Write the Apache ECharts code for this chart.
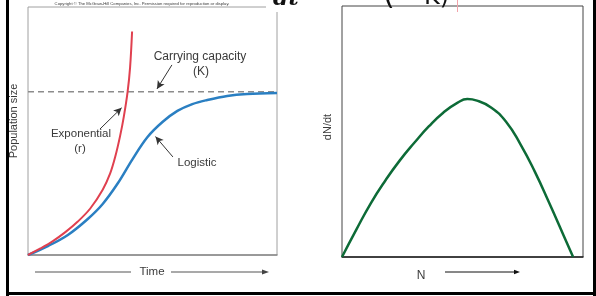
<!DOCTYPE html>
<html>
<head>
<meta charset="utf-8">
<script src="https://cdn.jsdelivr.net/npm/echarts@6/dist/echarts.min.js"></script>
<style>
html, body { margin: 0; padding: 0; background: #fff; }
#chart { width: 596px; height: 296px; }
</style>
</head>
<body>
<div id="chart"></div>
<script>
// left panel: population size vs time
const expTime = [0, 5, 10, 15, 20, 25, 30, 33, 35, 37, 38.5, 40, 41, 41.8]
const expSize = [0, 4, 8.5, 14, 20.5, 28.5, 40, 50, 60, 73, 85, 100, 115, 137]
const logTime = [0, 8, 16, 24, 30, 36, 42, 48, 54, 60, 66, 72, 80, 88, 100]
const logSize = [0, 5.5, 12.3, 22.1, 31.3, 43.8, 58.8, 72.3, 81.5, 88.3, 92.5, 95.0, 97.5, 98.7, 99.3]
const capacityK = 100
// right panel: dN/dt vs N
const densN = [0, 6, 12, 18, 24, 30, 36, 42, 48, 52, 56, 62, 68, 74, 80, 86, 92, 95.9]
const growth = [0, 11, 21.5, 30.5, 38.5, 45.5, 52, 57.5, 61.5, 62.9, 62.3, 59.5, 54, 45, 34, 21.5, 8.5, 0]

const font = '"Liberation Sans", Arial, sans-serif'
const textColor = '#3a3a3a'

function pairs (xs, ys) {
  return xs.map((x, i) => [x, ys[i]])
}

const chart = echarts.init(document.getElementById('chart'))

function label (text, x, y, size, extra) {
  return Object.assign({
    type: 'text',
    x,
    y,
    z: 50,
    style: {
      text,
      font: `${size}px ${font}`,
      fill: textColor,
      align: 'center',
      verticalAlign: 'middle'
    }
  }, extra || {})
}

const arrowStyle = { color: '#333', width: 1, type: 'solid' }

chart.setOption({
  animation: false,
  grid: [
    { left: 28, top: 7, width: 249, height: 248, show: true, borderColor: '#a0a0a0', borderWidth: 1 },
    { left: 342, top: 6, width: 241, height: 251, show: true, borderColor: '#444', borderWidth: 1 }
  ],
  xAxis: [
    {
      gridIndex: 0, type: 'value', min: 0, max: 100,
      axisLine: { show: true, lineStyle: { color: '#888', width: 1.5 } },
      axisTick: { show: false }, axisLabel: { show: false }, splitLine: { show: false }
    },
    {
      gridIndex: 1, type: 'value', min: 0, max: 100,
      axisLine: { show: true, lineStyle: { color: '#222', width: 1.5 } },
      axisTick: { show: false }, axisLabel: { show: false }, splitLine: { show: false }
    }
  ],
  yAxis: [
    {
      gridIndex: 0, type: 'value', min: 0, max: 152,
      axisLine: { show: false }, axisTick: { show: false },
      axisLabel: { show: false }, splitLine: { show: false }
    },
    {
      gridIndex: 1, type: 'value', min: 0, max: 100,
      axisLine: { show: false }, axisTick: { show: false },
      axisLabel: { show: false }, splitLine: { show: false }
    }
  ],
  series: [
    {
      name: 'Carrying capacity',
      type: 'line',
      xAxisIndex: 0,
      yAxisIndex: 0,
      data: [[0, capacityK], [100, capacityK]],
      showSymbol: false,
      lineStyle: { color: '#8c8c8c', width: 1.5, type: [6, 4] },
      z: 1
    },
    {
      name: 'Logistic',
      type: 'line',
      xAxisIndex: 0,
      yAxisIndex: 0,
      data: pairs(logTime, logSize),
      smooth: 0.35,
      showSymbol: false,
      lineStyle: { color: '#2a7fc2', width: 2.5 },
      z: 2
    },
    {
      name: 'Exponential',
      type: 'line',
      xAxisIndex: 0,
      yAxisIndex: 0,
      data: pairs(expTime, expSize),
      smooth: 0.35,
      showSymbol: false,
      lineStyle: { color: '#e0404f', width: 2 },
      z: 3,
      markLine: {
        silent: true,
        symbol: ['none', 'arrow'],
        symbolSize: [6, 8],
        label: { show: false },
        lineStyle: arrowStyle,
        data: [
          [{ coord: [57.8, 116.5] }, { coord: [51.8, 101.8] }],
          [{ coord: [28.9, 77.2] }, { coord: [37.6, 90.2] }],
          [{ coord: [58.2, 60.1] }, { coord: [51.2, 72.6] }]
        ]
      }
    },
    {
      name: 'dN/dt',
      type: 'line',
      xAxisIndex: 1,
      yAxisIndex: 1,
      data: pairs(densN, growth),
      smooth: 0.5,
      showSymbol: false,
      lineStyle: { color: '#0d6b37', width: 2.5 }
    }
  ],
  graphic: [
    // copyright strip
    label('Copyright \u00a9 The McGraw-Hill Companies, Inc. Permission required for reproduction or display.', 142, 4, 4.2),
    // cut-off formula pieces at the top
    { type: 'rect', z: 40, shape: { x: 266, y: 0, width: 26, height: 12 }, style: { fill: '#fff' } },
    { type: 'text', z: 50, x: 273, y: 10, style: { text: 'dt', font: 'italic bold 22px "DejaVu Serif", serif', fill: '#111', align: 'left', verticalAlign: 'bottom' } },
    { type: 'text', z: 50, x: 383, y: 11, style: { text: '(', font: '30px "DejaVu Sans", sans-serif', fill: '#111', align: 'left', verticalAlign: 'bottom' } },
    { type: 'text', z: 50, x: 424, y: 10, style: { text: 'K)', font: '24px "DejaVu Sans", sans-serif', fill: '#111', align: 'left', verticalAlign: 'bottom' } },
    { type: 'line', z: 50, shape: { x1: 457.5, y1: 0, x2: 457.5, y2: 12 }, style: { stroke: '#f2a3aa', lineWidth: 1 } },
    // left panel labels
    label('Population size', 14, 121, 11, { rotation: Math.PI / 2 }),
    label('Carrying capacity', 200, 57, 12),
    label('(K)', 201, 72, 12),
    label('Exponential', 81, 134, 11.5),
    label('(r)', 80, 149, 11.5),
    label('Logistic', 197, 163, 11.5),
    label('Time', 152, 272, 11.5),
    { type: 'line', z: 50, shape: { x1: 35, y1: 272, x2: 131, y2: 272 }, style: { stroke: '#555', lineWidth: 1.2 } },
    { type: 'line', z: 50, shape: { x1: 171, y1: 272, x2: 264, y2: 272 }, style: { stroke: '#555', lineWidth: 1.2 } },
    { type: 'polygon', z: 50, shape: { points: [[262, 269.5], [269, 272], [262, 274.5]] }, style: { fill: '#444' } },
    // right panel labels
    label('dN/dt', 328, 127, 11, { rotation: Math.PI / 2 }),
    label('N', 421, 276, 12),
    { type: 'line', z: 50, shape: { x1: 445, y1: 272, x2: 515, y2: 272 }, style: { stroke: '#111', lineWidth: 1 } },
    { type: 'polygon', z: 50, shape: { points: [[514, 269.8], [520, 272], [514, 274.2]] }, style: { fill: '#111' } },
    // black slide frame
    { type: 'rect', z: 60, shape: { x: 6, y: 0, width: 3, height: 296 }, style: { fill: '#000' } },
    { type: 'rect', z: 60, shape: { x: 6, y: 292, width: 590, height: 3 }, style: { fill: '#000' } },
    { type: 'rect', z: 60, shape: { x: 593, y: 0, width: 3, height: 296 }, style: { fill: '#000' } }
  ]
})
</script>
</body>
</html>
